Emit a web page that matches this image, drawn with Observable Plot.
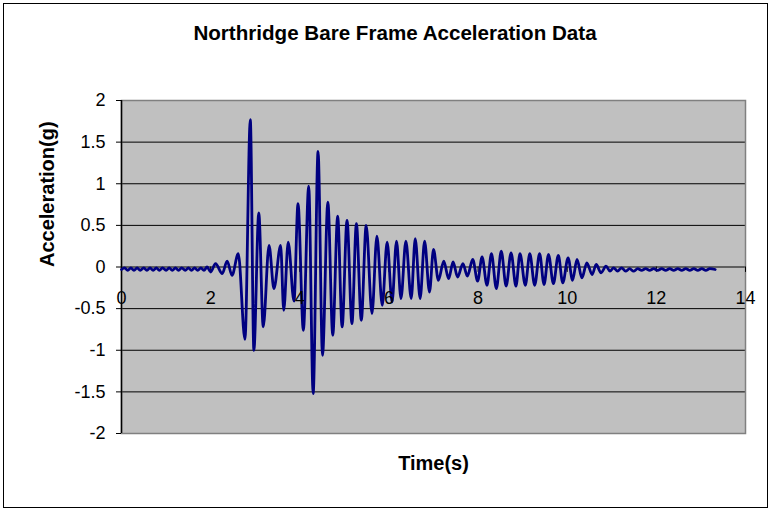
<!DOCTYPE html>
<html>
<head>
<meta charset="utf-8">
<script src="https://cdn.jsdelivr.net/npm/d3@7"></script>
<script src="https://cdn.jsdelivr.net/npm/@observablehq/plot@0.6"></script>
<style>
  body { margin: 0; background: #fff; font-family: "Liberation Sans", Arial, sans-serif; }
  #chart { position: relative; width: 772px; height: 511px; overflow: hidden; }
  #border { position: absolute; left: 3px; top: 3px; width: 763px; height: 503px; border: 1px solid #000; }
  #title { position: absolute; left: 0; top: 21px; width: 790px; text-align: center;
           font-weight: bold; font-size: 20.6px; line-height: 24px; color: #000; }
  #plot { position: absolute; left: 0; top: 60px; }
</style>
</head>
<body>
<div id="chart">
  <div id="border"></div>
  <div id="title">Northridge Bare Frame Acceleration Data</div>
  <div id="plot"></div>
</div>
<script>
// Recorded ground-floor acceleration of the bare frame (time in s, acceleration in g)
const timeS = [
  0.00, 0.07, 0.14, 0.21, 0.28, 0.35, 0.42, 0.50, 0.57, 0.64, 0.71, 0.78, 0.85, 0.92,
  1.00, 1.07, 1.14, 1.21, 1.28, 1.35, 1.43, 1.50, 1.57, 1.64, 1.71, 1.78, 1.85, 1.92,
  2.00, 2.11, 2.26, 2.37, 2.48, 2.62, 2.77, 2.89, 2.97, 3.08, 3.18, 3.31, 3.42, 3.57,
  3.64, 3.74, 3.87, 3.96, 4.08, 4.20, 4.30, 4.41, 4.51, 4.63, 4.74, 4.85, 4.95, 5.06,
  5.17, 5.27, 5.38, 5.49, 5.62, 5.73, 5.85, 5.96, 6.07, 6.17, 6.27, 6.38, 6.50, 6.59,
  6.70, 6.80, 6.91, 7.00, 7.11, 7.23, 7.34, 7.44, 7.54, 7.66, 7.76, 7.88, 7.99, 8.09,
  8.20, 8.30, 8.41, 8.52, 8.63, 8.74, 8.85, 8.94, 9.06, 9.16, 9.27, 9.38, 9.48, 9.58,
  9.69, 9.80, 9.90, 10.02, 10.12, 10.22, 10.33, 10.44, 10.56, 10.65, 10.76, 10.87, 10.96,
  11.04, 11.13, 11.22, 11.31, 11.40, 11.49, 11.58, 11.67, 11.76, 11.85, 11.94, 12.03,
  12.12, 12.21, 12.30, 12.39, 12.48, 12.57, 12.66, 12.75, 12.84, 12.93, 13.02, 13.11,
  13.20, 13.32
];
const accelG = [
  -0.03, -0.01, -0.04, -0.01, -0.04, -0.01, -0.04, -0.01, -0.04, -0.01, -0.04, -0.01, -0.04, -0.01,
  -0.04, -0.01, -0.04, -0.01, -0.04, -0.01, -0.04, -0.01, -0.04, -0.01, -0.04, -0.01, -0.04, 0.00,
  -0.06, 0.04, -0.08, 0.07, -0.10, 0.16, -0.87, 1.77, -1.00, 0.65, -0.72, 0.26, -0.26, 0.26,
  -0.52, 0.30, -0.41, 0.76, -0.76, 0.97, -1.52, 1.39, -1.06, 0.78, -0.82, 0.61, -0.72, 0.56,
  -0.68, 0.52, -0.64, 0.50, -0.56, 0.37, -0.46, 0.30, -0.42, 0.31, -0.38, 0.31, -0.38, 0.34,
  -0.38, 0.31, -0.30, 0.21, -0.16, 0.07, -0.14, 0.06, -0.12, 0.04, -0.11, 0.09, -0.17, 0.12,
  -0.22, 0.16, -0.26, 0.19, -0.23, 0.17, -0.23, 0.16, -0.22, 0.16, -0.22, 0.16, -0.21, 0.15,
  -0.20, 0.14, -0.19, 0.11, -0.16, 0.09, -0.13, 0.05, -0.09, 0.03, -0.07, 0.01, -0.05,
  -0.01, -0.05, -0.01, -0.05, -0.02, -0.05, -0.02, -0.04, -0.02, -0.04, -0.02, -0.04,
  -0.02, -0.04, -0.02, -0.04, -0.02, -0.04, -0.02, -0.04, -0.02, -0.04, -0.02, -0.04,
  -0.02, -0.03
];

const xTicks = [0, 2, 4, 6, 8, 10, 12, 14];
const yTicks = [-2, -1.5, -1, -0.5, 0, 0.5, 1, 1.5, 2];

const records = timeS.map((t, i) => ({t, a: accelG[i]}));
const gridLines = yTicks.filter(v => v !== 2);

const chart = Plot.plot({
  width: 772,
  height: 451,
  marginLeft: 121,
  marginRight: 27,
  marginTop: 40,
  marginBottom: 78,
  style: {fontFamily: "'Liberation Sans', Arial, sans-serif", background: "transparent", color: "#000"},
  x: {domain: [0, 14], axis: null},
  y: {domain: [-2, 2], axis: null},
  marks: [
    Plot.frame({fill: "#C0C0C0", stroke: null}),
    Plot.ruleY(gridLines, {stroke: "#000", strokeWidth: 1}),
    Plot.frame({stroke: "#808080", strokeWidth: 1.5}),
    Plot.ruleX([0], {stroke: "#000", strokeWidth: 1.5}),
    Plot.ruleX(xTicks, {x: d => d, y1: 0, y2: -0.065, stroke: "#000", strokeWidth: 1}),
    Plot.axisY({
      ticks: yTicks, tickFormat: d => String(d), tickSize: 5, tickPadding: 11,
      fontSize: 18, label: null, stroke: "#000"
    }),
    Plot.line(records, {x: "t", y: "a", curve: "monotone-x", stroke: "#000080", strokeWidth: 2.8}),
    Plot.text(xTicks, {x: d => d, y: () => 0, dy: 31, text: d => String(d), fontSize: 18, fill: "#000"}),
    Plot.text(["Acceleration(g)"], {frameAnchor: "left", rotate: -90, dx: -74, fontWeight: "bold", fontSize: 20, fill: "#000"}),
    Plot.text(["Time(s)"], {frameAnchor: "bottom", dy: 36, fontWeight: "bold", fontSize: 20, fill: "#000"})
  ]
});
document.getElementById("plot").appendChild(chart);
</script>
</body>
</html>
